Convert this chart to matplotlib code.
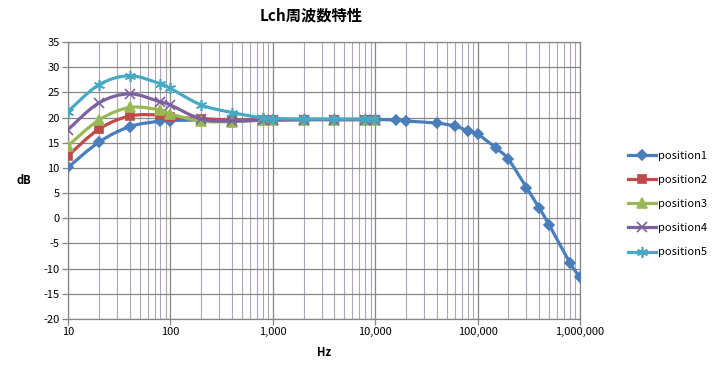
import numpy as np
import matplotlib
matplotlib.use("Agg")
import matplotlib.pyplot as plt
from matplotlib.path import Path
from matplotlib.patches import PathPatch
from matplotlib.lines import Line2D
from matplotlib.ticker import FixedLocator, FuncFormatter, LogLocator, NullFormatter

plt.rcParams['font.family'] = ['Noto Sans CJK JP', 'DejaVu Sans']
plt.rcParams['axes.unicode_minus'] = False

# frequencies (Hz)
freq1 = [10, 20, 40, 80, 100, 200, 400, 800, 1000, 2000, 4000, 8000, 10000,
         16000, 20000, 40000, 60000, 80000, 100000, 150000, 200000, 300000,
         400000, 500000, 800000, 1000000]
freq = [10, 20, 40, 80, 100, 200, 400, 800, 1000, 2000, 4000, 8000, 10000]

# levels (dB)
pos1 = [10.1, 15.1, 18.2, 19.3, 19.4, 19.5, 19.4, 19.5, 19.5, 19.6, 19.6, 19.6, 19.6,
        19.5, 19.3, 18.9, 18.3, 17.4, 16.7, 14.0, 11.7, 6.1, 2.0, -1.3, -8.9, -11.7]
pos2 = [12.4, 17.7, 20.3, 20.5, 20.1, 19.8, 19.5, 19.6, 19.6, 19.6, 19.6, 19.6, 19.6]
pos3 = [14.4, 19.5, 22.0, 21.5, 20.7, 19.3, 19.2, 19.5, 19.5, 19.6, 19.6, 19.6, 19.6]
pos4 = [17.6, 22.9, 24.7, 23.1, 22.5, 19.7, 19.3, 19.5, 19.5, 19.6, 19.6, 19.6, 19.6]
pos5 = [21.2, 26.5, 28.3, 26.7, 25.8, 22.5, 21.0, 19.9, 19.8, 19.7, 19.7, 19.7, 19.7]

labels = ["position1", "position2", "position3", "position4", "position5"]
colors = ["#4A7EBB", "#BE4B48", "#98B954", "#7D60A0", "#46AAC5"]
markers = ["D", "s", "^", "x", (6, 2, 0)]
msizes = [5.5, 6, 7, 7, 8]
yticks = list(range(-20, 40, 5))
xticks = [10, 100, 1000, 10000, 100000, 1000000]


def smooth_path(xs, ys):
    # Catmull-Rom style bezier (like Excel smoothed line), done in log-x space
    lx = np.log10(np.asarray(xs, dtype=float))
    y = np.asarray(ys, dtype=float)
    n = len(lx)
    verts = [(lx[0], y[0])]
    codes = [Path.MOVETO]
    for i in range(n - 1):
        a = max(i - 1, 0)
        b = min(i + 2, n - 1)
        c1 = (lx[i] + (lx[i + 1] - lx[a]) / 6, y[i] + (y[i + 1] - y[a]) / 6)
        c2 = (lx[i + 1] - (lx[b] - lx[i]) / 6, y[i + 1] - (y[b] - y[i]) / 6)
        verts += [c1, c2, (lx[i + 1], y[i + 1])]
        codes += [Path.CURVE4] * 3
    verts = [(10 ** vx, vy) for vx, vy in verts]
    return Path(verts, codes)


fig = plt.figure(figsize=(7.15, 3.73), dpi=100)
ax = fig.add_axes([68 / 715, 1 - 319 / 373, 512 / 715, 277 / 373])
ax.set_xscale("log")
ax.set_xlim(10, 1000000)
ax.set_ylim(-20, 35)

series = [(freq1, pos1), (freq, pos2), (freq, pos3), (freq, pos4), (freq, pos5)]
handles = []
for k, (xs, ys) in enumerate(series):
    c = colors[k]
    ax.add_patch(PathPatch(smooth_path(xs, ys), fill=False, edgecolor=c, lw=2.3,
                           zorder=3 + 2 * k))
    ax.plot(xs, ys, ls="none", marker=markers[k], ms=msizes[k], color=c,
            mec=c, mew=1.2, zorder=4 + 2 * k)
    handles.append(Line2D([], [], color=c, lw=2.3, marker=markers[k],
                          ms=msizes[k], mec=c, mew=1.2))

ax.xaxis.set_major_locator(FixedLocator(xticks))
ax.xaxis.set_major_formatter(FuncFormatter(lambda v, p: f"{int(round(v)):,}"))
ax.xaxis.set_minor_locator(LogLocator(base=10, subs=range(2, 10)))
ax.xaxis.set_minor_formatter(NullFormatter())
ax.set_yticks(yticks)

ax.grid(True, which="major", color="#868686", lw=0.9, zorder=0)
ax.grid(True, which="minor", axis="x", color="#B0A4B8", lw=0.8, zorder=0)
ax.set_axisbelow(True)
for s in ax.spines.values():
    s.set_color("#868686")
    s.set_linewidth(0.9)
ax.tick_params(axis="both", which="major", labelsize=8, length=4, color="#868686",
               width=0.9, pad=2)
ax.tick_params(axis="x", which="minor", length=0)

ax.set_xlabel("Hz", fontsize=8, fontweight="bold", labelpad=6)
ax.set_ylabel("dB", fontsize=8, fontweight="bold", rotation=0, labelpad=14, va="center")

fig.text(311 / 715, 1 - 15 / 373, "Lch周波数特性", ha="center", va="center",
         fontsize=11, fontweight="bold")

fig.legend(handles, labels, loc="center left", bbox_to_anchor=(618 / 715, 1 - 204 / 373),
           frameon=False, fontsize=8, handlelength=2.5, labelspacing=1.28,
           handletextpad=0.2)

fig.savefig("out.png", dpi=100)
